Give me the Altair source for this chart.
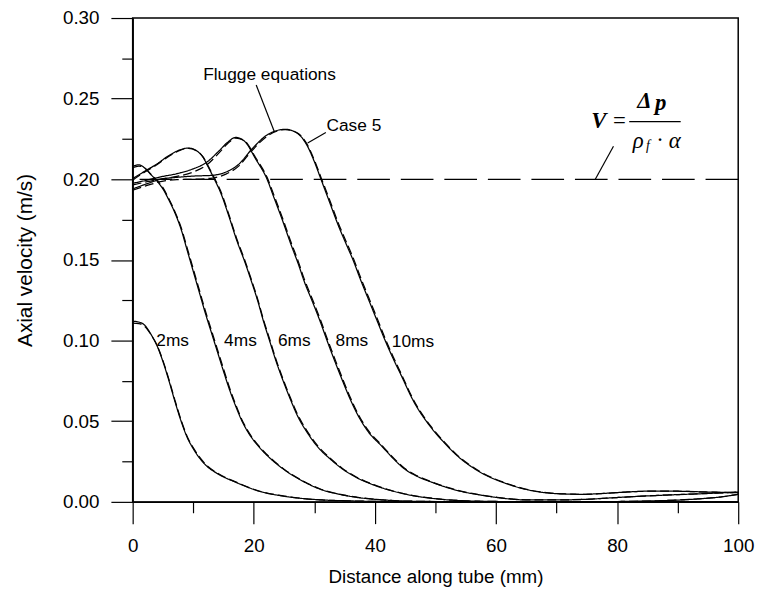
import altair as alt
import pandas as pd

# ---------------- data ----------------
X2 = [0, 1, 2, 3, 4, 5, 6, 7, 8, 9, 10, 12, 14, 17, 21, 25, 30, 37, 45, 60, 80, 100]
F2 = [0.112, 0.1115, 0.1095, 0.104, 0.097, 0.087, 0.075, 0.062, 0.050, 0.040, 0.033,
      0.023, 0.0175, 0.0122, 0.0065, 0.0035, 0.0015, 0.0005, 0.0001, 0.0, 0.0, 0.0]
C2 = [0.1108, 0.1105, 0.1088, 0.1038, 0.0972, 0.0876, 0.0758, 0.0628, 0.0507, 0.0406, 0.0336,
      0.0235, 0.0178, 0.0124, 0.0066, 0.0036, 0.0015, 0.0005, 0.0001, 0.0, 0.0, 0.0]

X4 = [0, 1, 2, 3, 4, 5, 6, 7, 8, 9, 10, 11, 12, 13, 14, 15, 16, 17, 18, 19, 20, 21,
      23, 25, 28, 31, 34, 37, 41, 46, 55, 70, 100]
F4 = [0.208, 0.209, 0.207, 0.203, 0.199, 0.194, 0.187, 0.179, 0.169, 0.156,
      0.143, 0.130, 0.117, 0.105, 0.093, 0.081, 0.0695, 0.0595, 0.0505, 0.0435,
      0.038, 0.0335, 0.026, 0.020, 0.013, 0.0078, 0.0048, 0.0028, 0.0013, 0.0004, 0.0001, 0.0, 0.0]
C4 = [0.2072, 0.2082, 0.2068, 0.2032, 0.1995, 0.1948, 0.1878, 0.1798, 0.1702, 0.1575,
      0.1445, 0.1315, 0.1185, 0.1065, 0.0945, 0.0825, 0.0708, 0.0605, 0.0513, 0.0442,
      0.0386, 0.034, 0.0264, 0.0203, 0.0132, 0.008, 0.0049, 0.0029, 0.0013, 0.0004, 0.0001, 0.0, 0.0]

X6 = [0, 2, 4, 6, 8, 9.2, 10.5, 11.6, 12.5, 13.5, 14.5, 15.9, 17.2, 18.5, 19.5, 20.7, 21.6,
      22.6, 23.7, 24.8, 26, 27.2, 29, 30.8, 32.5, 34.6, 37, 40, 45.4, 50.9, 56, 65, 75, 80,
      86, 90, 94, 97, 100]
F6 = [0.2005, 0.205, 0.2095, 0.2148, 0.2185, 0.2194, 0.2178, 0.2138, 0.2075, 0.2,
      0.192, 0.177, 0.162, 0.149, 0.138, 0.124, 0.112, 0.1, 0.087, 0.0755,
      0.064, 0.0535, 0.042, 0.033, 0.027, 0.0205, 0.015, 0.0102, 0.0045, 0.0016,
      0.0005, 0.0001, 0.0, 0.0002, 0.0006, 0.0011, 0.002, 0.003, 0.0047]
C6 = [0.1995, 0.2045, 0.209, 0.2143, 0.2182, 0.2192, 0.2178, 0.214, 0.208, 0.2008,
      0.193, 0.178, 0.163, 0.150, 0.139, 0.125, 0.113, 0.1012, 0.088, 0.0765,
      0.065, 0.0545, 0.0428, 0.0337, 0.0275, 0.0209, 0.0153, 0.0104, 0.0046, 0.0017,
      0.0005, 0.0001, 0.0, 0.0002, 0.0006, 0.0011, 0.002, 0.003, 0.0047]

X8 = [0, 2.4, 4.6, 7.3, 10, 12.2, 14.3, 15.7, 17, 18.5, 20.3, 22.2, 23.3, 24.6, 26.2,
      27.4, 28.3, 29.7, 31, 32.1, 33.3, 34.6, 36, 37.3, 39, 41.1, 43, 44.9, 47, 49.3,
      52, 54.7, 57.5, 60.2, 65, 70, 75, 80, 85, 90, 95, 100]
F8 = [0.1975, 0.1995, 0.2015, 0.2035, 0.2065, 0.2105, 0.2178, 0.223, 0.226, 0.2235,
      0.2127, 0.2, 0.189, 0.176, 0.159, 0.147, 0.137, 0.124, 0.1115, 0.1,
      0.088, 0.0756, 0.063, 0.053, 0.043, 0.0347, 0.027, 0.0204, 0.0158, 0.0123,
      0.0088, 0.0061, 0.0042, 0.0027, 0.0012, 0.0012, 0.0016, 0.0027, 0.0037, 0.0045,
      0.0052, 0.0061]
C8 = [0.1965, 0.1985, 0.2002, 0.2018, 0.2045, 0.2088, 0.2165, 0.2222, 0.2255, 0.2238,
      0.2135, 0.2012, 0.1905, 0.1775, 0.1605, 0.1485, 0.1385, 0.1255, 0.113, 0.1015,
      0.0895, 0.077, 0.0642, 0.054, 0.0438, 0.0353, 0.0275, 0.0208, 0.0161, 0.0125,
      0.009, 0.0062, 0.0043, 0.0028, 0.0013, 0.0012, 0.0016, 0.0027, 0.0037, 0.0045,
      0.0052, 0.0061]

X10 = [0, 2.4, 4.6, 7.3, 10, 13.2, 15.4, 17.6, 19.7, 22.4, 25.2, 27, 28.8, 30, 31.1,
       32.5, 34, 35.3, 36.5, 37.5, 39, 40.4, 41.7, 43, 44.4, 46.3, 49.3, 51.5, 53.6, 57.4,
       61.8, 65.6, 70, 74.3, 78.1, 82, 86, 90, 95, 100]
F10 = [0.194, 0.1973, 0.2, 0.2012, 0.202, 0.2025, 0.2045, 0.2096, 0.2188, 0.228,
       0.231, 0.229, 0.221, 0.211, 0.2, 0.186, 0.171, 0.1595, 0.149, 0.139,
       0.125, 0.112, 0.1, 0.089, 0.078, 0.063, 0.046, 0.0365, 0.0286, 0.0184,
       0.0112, 0.0072, 0.0051, 0.0047, 0.0053, 0.0062, 0.0067, 0.0066, 0.0061, 0.0057]
C10 = [0.1932, 0.1962, 0.1985, 0.1998, 0.2, 0.2008, 0.2032, 0.2085, 0.2178, 0.2272,
       0.2308, 0.2292, 0.2218, 0.212, 0.2012, 0.1875, 0.1725, 0.161, 0.1505, 0.1405,
       0.1265, 0.1135, 0.1013, 0.0902, 0.079, 0.0638, 0.0466, 0.037, 0.029, 0.0187,
       0.0114, 0.0073, 0.0052, 0.0047, 0.0053, 0.0062, 0.0067, 0.0066, 0.0061, 0.0057]

TIMES = ["2ms", "4ms", "6ms", "8ms", "10ms"]
V_REF = [0.20]

X_TICKS = [0, 10, 20, 30, 40, 50, 60, 70, 80, 90, 100]
Y_TICKS = [0.0, 0.025, 0.05, 0.075, 0.1, 0.125, 0.15, 0.175, 0.2, 0.225, 0.25, 0.275, 0.3]

# curve labels
LAB_TEXT = ["2ms", "4ms", "6ms", "8ms", "10ms", "Flugge equations", "Case 5"]
LAB_X = [3.9, 15.1, 24.0, 33.5, 42.8, 22.6, 32.0]
LAB_Y = [0.1, 0.0995, 0.1, 0.0995, 0.099, 0.2645, 0.2331]
LAB_ALIGN = ["left", "left", "left", "left", "left", "center", "left"]

# leader lines
LEAD_X = [20.4, 31.9, 79.4]
LEAD_Y = [0.2585, 0.229, 0.2205]
LEAD_X2 = [23.4, 28.9, 76.4]
LEAD_Y2 = [0.2295, 0.2225, 0.200]

# formula pieces
FORM_TEXT = ["V", "=", "Δ", "p", "ρ", "f", "·", "α"]
FORM_X = [77.0, 80.4, 84.5, 87.2, 83.5, 85.1, 87.1, 89.5]
FORM_Y = [0.236, 0.236, 0.2485, 0.2475, 0.2238, 0.2205, 0.2245, 0.2238]
FORM_KIND = ["bi", "n", "bi", "bi", "i", "s", "n", "i"]
BAR_X = [82.0]
BAR_X2 = [90.5]
BAR_Y = [0.2358]

# ---------------- build tables ----------------
rows = []
for t, xs, f, c in zip(TIMES, [X2, X4, X6, X8, X10], [F2, F4, F6, F8, F10],
                       [C2, C4, C6, C8, C10]):
    for x, y in zip(xs, f):
        rows.append({"x": x, "v": y, "time": t, "model": "Flugge equations"})
    for x, y in zip(xs, c):
        rows.append({"x": x, "v": y, "time": t, "model": "Case 5"})
df = pd.DataFrame(rows)
df["series"] = df["time"] + "|" + df["model"]

labels = pd.DataFrame({"x": LAB_X, "y": LAB_Y, "text": LAB_TEXT, "align": LAB_ALIGN})
leads = pd.DataFrame({"x": LEAD_X, "y": LEAD_Y, "x2": LEAD_X2, "y2": LEAD_Y2})
form = pd.DataFrame({"x": FORM_X, "y": FORM_Y, "text": FORM_TEXT, "kind": FORM_KIND})
bar = pd.DataFrame({"x": BAR_X, "x2": BAR_X2, "y": BAR_Y})
ref = pd.DataFrame({"v": V_REF})

FONT = "Liberation Sans"
SERIF = "Liberation Serif"
xsc = alt.Scale(domain=[0, 100], nice=False, zero=False)
ysc = alt.Scale(domain=[0, 0.30], nice=False, zero=False)

MAJ_X = "datum.value % 20 == 0"
MAJ_Y = "abs(datum.value*20 - round(datum.value*20)) < 0.001"

common = dict(grid=False, labelFontSize=19, labelFont=FONT, titleFont=FONT,
              titleFontWeight="normal", labelColor="black", titleColor="black",
              domainColor="black", domainWidth=1.5, tickColor="black", tickWidth=1.2,
              labelFlush=False, labelOverlap=False)

xaxis = alt.Axis(
    values=X_TICKS,
    labelExpr=MAJ_X + " ? datum.label : ''",
    tickSize={"condition": {"test": MAJ_X, "value": 22}, "value": 11},
    labelPadding=13, titlePadding=13, titleFontSize=19,
    title="Distance along tube (mm)", **common)
yaxis = alt.Axis(
    values=Y_TICKS,
    labelExpr=MAJ_Y + " ? format(datum.value, '.2f') : ''",
    tickSize={"condition": {"test": MAJ_Y, "value": 22}, "value": 11},
    labelPadding=12, titlePadding=27, titleFontSize=21,
    title="Axial velocity (m/s)", **common)

lines = alt.Chart(df).mark_line(color="black", strokeWidth=1.25, interpolate="monotone",
                                clip=True).encode(
    x=alt.X("x:Q", scale=xsc, axis=xaxis),
    y=alt.Y("v:Q", scale=ysc, axis=yaxis),
    detail="series:N",
    strokeDash=alt.StrokeDash("model:N",
                              scale=alt.Scale(domain=["Flugge equations", "Case 5"],
                                              range=[[1, 0], [9, 4]]),
                              legend=None),
    order="x:Q",
)

refline = alt.Chart(ref).mark_rule(color="black", strokeWidth=1.3,
                                   strokeDash=[33, 11]).encode(y=alt.Y("v:Q", scale=ysc))


def text_layer(data, **mk):
    return alt.Chart(data).mark_text(color="black", baseline="middle", **mk).encode(
        x=alt.X("x:Q", scale=xsc), y=alt.Y("y:Q", scale=ysc), text="text:N")


lab_left = text_layer(labels[labels["align"] == "left"], fontSize=17.5, font=FONT,
                      align="left")
lab_center = text_layer(labels[labels["align"] == "center"], fontSize=17.5, font=FONT,
                        align="center")

lead = alt.Chart(leads).mark_rule(color="black", strokeWidth=1.2).encode(
    x=alt.X("x:Q", scale=xsc), y=alt.Y("y:Q", scale=ysc), x2="x2:Q", y2="y2:Q")

f_bi = text_layer(form[form["kind"] == "bi"], font=SERIF, fontSize=23, align="center",
                  fontStyle="italic", fontWeight="bold")
f_n = text_layer(form[form["kind"] == "n"], font=SERIF, fontSize=23, align="center")
f_i = text_layer(form[form["kind"] == "i"], font=SERIF, fontSize=23, align="center",
                 fontStyle="italic")
f_s = text_layer(form[form["kind"] == "s"], font=SERIF, fontSize=14, align="center",
                 fontStyle="italic")
fbar = alt.Chart(bar).mark_rule(color="black", strokeWidth=1.2).encode(
    x=alt.X("x:Q", scale=xsc), x2="x2:Q", y=alt.Y("y:Q", scale=ysc))

chart = alt.layer(lines, refline, lab_left, lab_center, lead,
                  f_bi, f_n, f_i, f_s, fbar).properties(
    width=612, height=489,
    padding={"left": 126, "top": 7, "right": 20, "bottom": 92},
    autosize=alt.AutoSizeParams(type="none"),
    background="white",
).configure_view(stroke="black", strokeWidth=1.5)

chart.save("out.html", embed_options={"renderer": "svg", "actions": False})
